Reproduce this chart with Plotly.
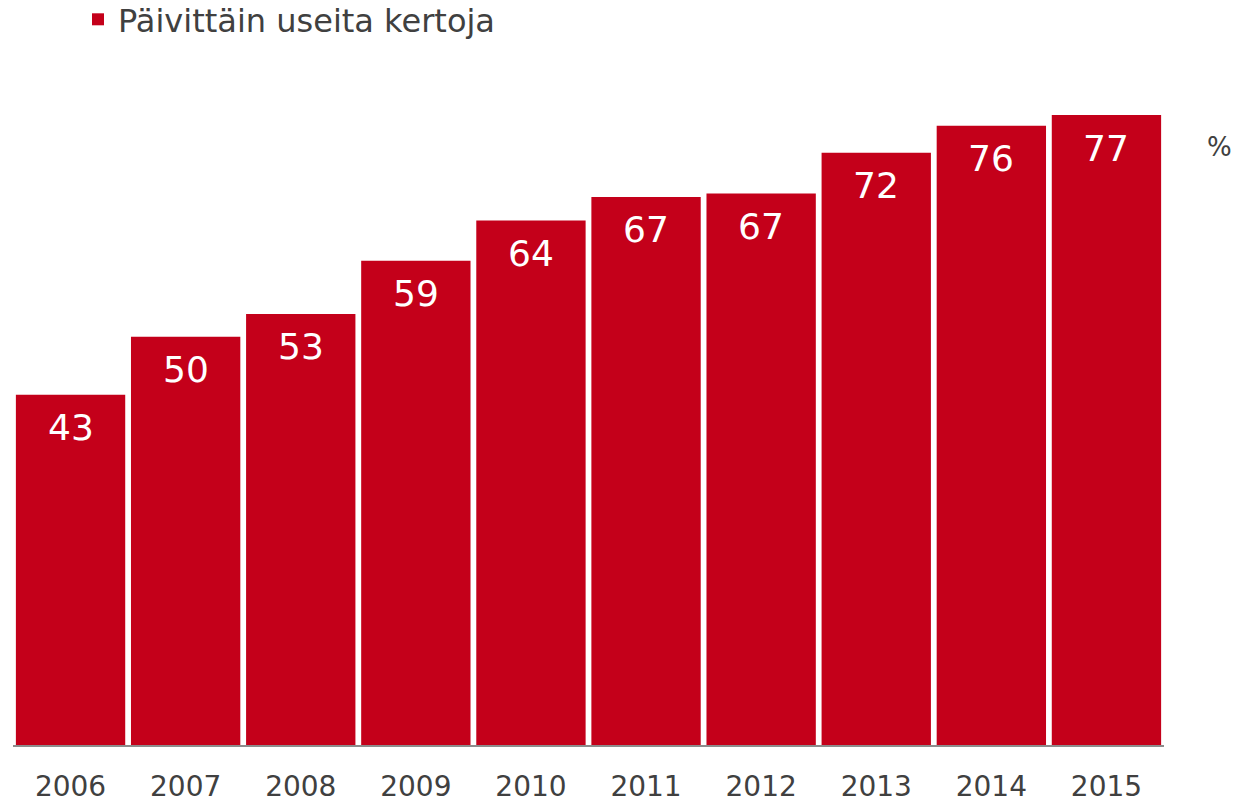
import plotly.graph_objects as go

years = ["2006", "2007", "2008", "2009", "2010", "2011", "2012", "2013", "2014", "2015"]
values = [42.8, 49.9, 52.7, 59.2, 64.1, 67.0, 67.4, 72.4, 75.7, 77.0]
labels = ["43", "50", "53", "59", "64", "67", "67", "72", "76", "77"]
series_name = "Päivittäin useita kertoja"

RED = "#C4001A"
FONT = "DejaVu Sans"

W, H = 1236, 801
T, B = 66, 56
PLOT_H = H - T - B

fig = go.Figure()
fig.add_trace(go.Bar(
    x=years, y=values, name=series_name,
    marker=dict(color=RED, line=dict(width=0)),
    showlegend=True, hoverinfo="skip",
))

for i, (v, lab) in enumerate(zip(values, labels)):
    fig.add_annotation(x=i, y=v, text=lab, showarrow=False, yshift=-33,
                       yanchor="middle", font=dict(family=FONT, size=36, color="white"))

fig.add_annotation(xref="paper", yref="paper", x=1.036, y=0.881, text="%",
                   showarrow=False, xanchor="left", yanchor="middle",
                   font=dict(family=FONT, size=26, color="#404040"))

fig.update_layout(
    width=W, height=H,
    margin=dict(l=13, r=72, t=T, b=B, autoexpand=False),
    paper_bgcolor="white", plot_bgcolor="white",
    bargap=0.05,
    font=dict(family=FONT, color="#404040"),
    showlegend=True,
    legend=dict(x=(78 - 13) / (W - 13 - 72), xref="paper", xanchor="left",
                y=1 + (T + 8) / PLOT_H, yref="paper", yanchor="top",
                orientation="h",
                font=dict(family=FONT, size=32, color="#404040"),
                bgcolor="rgba(0,0,0,0)"),
    xaxis=dict(type="category", range=[-0.5, 9.5], automargin=False,
               showgrid=False, showline=True, linecolor="#8C8C8C", linewidth=2,
               ticks="outside", ticklen=15, tickcolor="rgba(0,0,0,0)",
               tickfont=dict(family=FONT, size=28, color="#404040")),
    yaxis=dict(range=[0, 83], automargin=False, showgrid=False, showticklabels=False,
               zeroline=False, showline=False),
)

fig.write_html("out.html", config={"displayModeBar": False},
               post_script="document.body.style.margin='0';")
